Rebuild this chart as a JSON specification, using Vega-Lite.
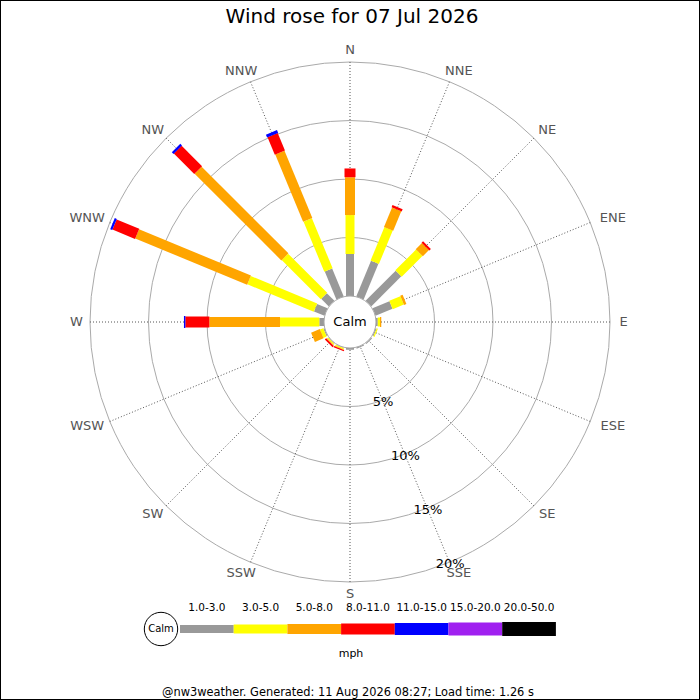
{
  "$schema": "https://vega.github.io/schema/vega-lite/v6.json",
  "width": 700,
  "height": 700,
  "padding": 0,
  "autosize": {"type": "none"},
  "config": {
    "view": {"stroke": "#000000", "strokeWidth": 2},
    "font": "DejaVu Sans",
    "axis": {"disable": true},
    "legend": {"disable": true}
  },
  "datasets": {
    "dirs": [
      {"dir": "N", "deg": 0}, {"dir": "NNE", "deg": 22.5}, {"dir": "NE", "deg": 45}, {"dir": "ENE", "deg": 67.5},
      {"dir": "E", "deg": 90}, {"dir": "ESE", "deg": 112.5}, {"dir": "SE", "deg": 135}, {"dir": "SSE", "deg": 157.5},
      {"dir": "S", "deg": 180}, {"dir": "SSW", "deg": 202.5}, {"dir": "SW", "deg": 225}, {"dir": "WSW", "deg": 247.5},
      {"dir": "W", "deg": 270}, {"dir": "WNW", "deg": 292.5}, {"dir": "NW", "deg": 315}, {"dir": "NNW", "deg": 337.5}
    ],
    "rose": [
      {"dir": "N", "band": "1.0-3.0", "pct": 3.59}, {"dir": "N", "band": "3.0-5.0", "pct": 3.33}, {"dir": "N", "band": "5.0-8.0", "pct": 3.23}, {"dir": "N", "band": "8.0-11.0", "pct": 0.75},
      {"dir": "NNE", "band": "1.0-3.0", "pct": 3.3}, {"dir": "NNE", "band": "3.0-5.0", "pct": 3.1}, {"dir": "NNE", "band": "5.0-8.0", "pct": 1.8}, {"dir": "NNE", "band": "8.0-11.0", "pct": 0.2},
      {"dir": "NE", "band": "1.0-3.0", "pct": 3.64}, {"dir": "NE", "band": "3.0-5.0", "pct": 2.51}, {"dir": "NE", "band": "5.0-8.0", "pct": 0.75}, {"dir": "NE", "band": "8.0-11.0", "pct": 0.18},
      {"dir": "ENE", "band": "1.0-3.0", "pct": 1.57}, {"dir": "ENE", "band": "3.0-5.0", "pct": 1.03}, {"dir": "ENE", "band": "5.0-8.0", "pct": 0.22},
      {"dir": "E", "band": "1.0-3.0", "pct": 0.15}, {"dir": "E", "band": "3.0-5.0", "pct": 0.19}, {"dir": "E", "band": "5.0-8.0", "pct": 0.11},
      {"dir": "ESE", "band": "1.0-3.0", "pct": 0.1}, {"dir": "ESE", "band": "3.0-5.0", "pct": 0.1},
      {"dir": "SE", "band": "1.0-3.0", "pct": 0.1},
      {"dir": "SSE", "band": "1.0-3.0", "pct": 0.1},
      {"dir": "S", "band": "1.0-3.0", "pct": 0.15},
      {"dir": "SSW", "band": "1.0-3.0", "pct": 0.05}, {"dir": "SSW", "band": "3.0-5.0", "pct": 0.1}, {"dir": "SSW", "band": "5.0-8.0", "pct": 0.05}, {"dir": "SSW", "band": "8.0-11.0", "pct": 0.1},
      {"dir": "SW", "band": "1.0-3.0", "pct": 0.05}, {"dir": "SW", "band": "3.0-5.0", "pct": 0.1}, {"dir": "SW", "band": "5.0-8.0", "pct": 0.05}, {"dir": "SW", "band": "8.0-11.0", "pct": 0.15},
      {"dir": "WSW", "band": "1.0-3.0", "pct": 0.1}, {"dir": "WSW", "band": "3.0-5.0", "pct": 0.3}, {"dir": "WSW", "band": "5.0-8.0", "pct": 0.8},
      {"dir": "W", "band": "1.0-3.0", "pct": 0.4}, {"dir": "W", "band": "3.0-5.0", "pct": 3.36}, {"dir": "W", "band": "5.0-8.0", "pct": 6.04}, {"dir": "W", "band": "8.0-11.0", "pct": 2.05}, {"dir": "W", "band": "11.0-15.0", "pct": 0.12},
      {"dir": "WNW", "band": "1.0-3.0", "pct": 0.97}, {"dir": "WNW", "band": "3.0-5.0", "pct": 6.15}, {"dir": "WNW", "band": "5.0-8.0", "pct": 10.35}, {"dir": "WNW", "band": "8.0-11.0", "pct": 2.09}, {"dir": "WNW", "band": "11.0-15.0", "pct": 0.19},
      {"dir": "NW", "band": "1.0-3.0", "pct": 0.92}, {"dir": "NW", "band": "3.0-5.0", "pct": 4.73}, {"dir": "NW", "band": "5.0-8.0", "pct": 10.48}, {"dir": "NW", "band": "8.0-11.0", "pct": 2.47}, {"dir": "NW", "band": "11.0-15.0", "pct": 0.2},
      {"dir": "NNW", "band": "1.0-3.0", "pct": 2.59}, {"dir": "NNW", "band": "3.0-5.0", "pct": 4.63}, {"dir": "NNW", "band": "5.0-8.0", "pct": 6.22}, {"dir": "NNW", "band": "8.0-11.0", "pct": 1.62}, {"dir": "NNW", "band": "11.0-15.0", "pct": 0.26}
    ],
    "bands": [
      {"band": "1.0-3.0"}, {"band": "3.0-5.0"}, {"band": "5.0-8.0"}, {"band": "8.0-11.0"},
      {"band": "11.0-15.0"}, {"band": "15.0-20.0"}, {"band": "20.0-50.0"}
    ],
    "rings": [
      {"pct": 5, "label": "5%"}, {"pct": 10, "label": "10%"}, {"pct": 15, "label": "15%"}, {"pct": 20, "label": "20%"}
    ]
  },
  "layer": [
    {
      "data": {"name": "rings"},
      "transform": [
        {"calculate": "pow(2 * (26 + 11.7 * datum.pct), 2)", "as": "sz"}
      ],
      "mark": {"type": "point", "shape": "circle", "filled": false, "stroke": "#aaaaaa", "strokeWidth": 1, "opacity": 1},
      "encoding": {
        "x": {"datum": 0, "type": "quantitative", "scale": {"domain": [-350, 350], "nice": false, "zero": false}},
        "y": {"datum": 0, "type": "quantitative", "scale": {"domain": [-378, 322], "nice": false, "zero": false}},
        "size": {"field": "sz", "type": "quantitative", "scale": null}
      }
    },
    {
      "data": {"name": "dirs"},
      "transform": [
        {"calculate": "260 * sin(datum.deg * PI / 180)", "as": "lx"},
        {"calculate": "260 * cos(datum.deg * PI / 180)", "as": "ly"}
      ],
      "mark": {"type": "rule", "stroke": "#555555", "strokeWidth": 1, "strokeDash": [1, 2]},
      "encoding": {
        "x": {"field": "lx", "type": "quantitative"},
        "y": {"field": "ly", "type": "quantitative"},
        "x2": {"datum": 0},
        "y2": {"datum": 0}
      }
    },
    {
      "data": {"name": "rose"},
      "transform": [
        {"lookup": "dir", "from": {"data": {"name": "dirs"}, "key": "dir", "fields": ["deg"]}},
        {"stack": "pct", "groupby": ["dir"], "as": ["p0", "p1"]},
        {"calculate": "(26 + 11.7 * datum.p0) * sin(datum.deg * PI / 180)", "as": "x0"},
        {"calculate": "(26 + 11.7 * datum.p0) * cos(datum.deg * PI / 180)", "as": "y0"},
        {"calculate": "(26 + 11.7 * datum.p1) * sin(datum.deg * PI / 180)", "as": "x1"},
        {"calculate": "(26 + 11.7 * datum.p1) * cos(datum.deg * PI / 180)", "as": "y1"}
      ],
      "mark": {"type": "rule", "strokeCap": "butt"},
      "encoding": {
        "x": {"field": "x0", "type": "quantitative"},
        "y": {"field": "y0", "type": "quantitative"},
        "x2": {"field": "x1"},
        "y2": {"field": "y1"},
        "color": {
          "field": "band", "type": "nominal",
          "scale": {
            "domain": ["1.0-3.0", "3.0-5.0", "5.0-8.0", "8.0-11.0", "11.0-15.0", "15.0-20.0", "20.0-50.0"],
            "range": ["#999999", "#ffff00", "#ffa500", "#ff0000", "#0000ff", "#a020f0", "#000000"]
          }
        },
        "size": {
          "field": "band", "type": "ordinal",
          "scale": {
            "domain": ["1.0-3.0", "3.0-5.0", "5.0-8.0", "8.0-11.0", "11.0-15.0", "15.0-20.0", "20.0-50.0"],
            "range": [8, 14, 20, 22.5, 24.5, 26.5, 28.5]
          }
        }
      }
    },
    {
      "data": {"values": [{"t": "Calm"}]},
      "mark": {"type": "point", "shape": "circle", "filled": true, "fill": "#ffffff", "stroke": "#aaaaaa", "strokeWidth": 1, "size": 2704, "opacity": 1},
      "encoding": {
        "x": {"datum": 0, "type": "quantitative"},
        "y": {"datum": 0, "type": "quantitative"}
      }
    },
    {
      "data": {"values": [{"t": "Calm"}]},
      "mark": {"type": "text", "fontSize": 13, "color": "#000000", "align": "center", "baseline": "middle"},
      "encoding": {
        "x": {"datum": 0, "type": "quantitative"},
        "y": {"datum": 0, "type": "quantitative"},
        "text": {"field": "t"}
      }
    },
    {
      "data": {"name": "dirs"},
      "transform": [
        {"calculate": "(268 + 5.5 * length(datum.dir)) * sin(datum.deg * PI / 180)", "as": "tx"},
        {"calculate": "272 * cos(datum.deg * PI / 180)", "as": "ty"}
      ],
      "mark": {"type": "text", "fontSize": 13, "color": "#555555", "align": "center", "baseline": "middle"},
      "encoding": {
        "x": {"field": "tx", "type": "quantitative"},
        "y": {"field": "ty", "type": "quantitative"},
        "text": {"field": "dir"}
      }
    },
    {
      "data": {"name": "rings"},
      "transform": [
        {"calculate": "(28 + 11.7 * datum.pct) * sin(157.5 * PI / 180)", "as": "tx"},
        {"calculate": "(28 + 11.7 * datum.pct) * cos(157.5 * PI / 180)", "as": "ty"}
      ],
      "mark": {"type": "text", "fontSize": 13, "color": "#000000", "align": "center", "baseline": "middle"},
      "encoding": {
        "x": {"field": "tx", "type": "quantitative"},
        "y": {"field": "ty", "type": "quantitative"},
        "text": {"field": "label"}
      }
    },
    {
      "data": {"values": [{"t": "Wind rose for 07 Jul 2026"}]},
      "mark": {"type": "text", "fontSize": 20, "color": "#000000", "align": "center", "baseline": "middle"},
      "encoding": {
        "x": {"datum": 2, "type": "quantitative"},
        "y": {"datum": 305, "type": "quantitative"},
        "text": {"field": "t"}
      }
    },
    {
      "data": {"values": [{"t": "@nw3weather. Generated: 11 Aug 2026 08:27; Load time: 1.26 s"}]},
      "mark": {"type": "text", "fontSize": 11.4, "color": "#000000", "align": "center", "baseline": "middle"},
      "encoding": {
        "x": {"datum": -2, "type": "quantitative"},
        "y": {"datum": -371, "type": "quantitative"},
        "text": {"field": "t"}
      }
    },
    {
      "data": {"values": [{"t": "mph"}]},
      "mark": {"type": "text", "fontSize": 11, "color": "#000000", "align": "center", "baseline": "middle"},
      "encoding": {
        "x": {"datum": 1, "type": "quantitative"},
        "y": {"datum": -332, "type": "quantitative"},
        "text": {"field": "t"}
      }
    },
    {
      "data": {"values": [{"t": "Calm"}]},
      "mark": {"type": "point", "shape": "circle", "filled": true, "fill": "#ffffff", "stroke": "#000000", "strokeWidth": 1, "size": 1116, "opacity": 1},
      "encoding": {
        "x": {"datum": -189, "type": "quantitative"},
        "y": {"datum": -307, "type": "quantitative"}
      }
    },
    {
      "data": {"values": [{"t": "Calm"}]},
      "mark": {"type": "text", "fontSize": 10, "color": "#000000", "align": "center", "baseline": "middle"},
      "encoding": {
        "x": {"datum": -189, "type": "quantitative"},
        "y": {"datum": -307, "type": "quantitative"},
        "text": {"field": "t"}
      }
    },
    {
      "data": {"name": "bands"},
      "transform": [
        {"window": [{"op": "row_number", "as": "i"}]},
        {"calculate": "-170 + 53.7 * (datum.i - 1)", "as": "gx0"},
        {"calculate": "-170 + 53.7 * datum.i", "as": "gx1"},
        {"calculate": "-170 + 53.7 * (datum.i - 0.5)", "as": "gxm"}
      ],
      "layer": [
        {
          "mark": {"type": "rule", "strokeCap": "butt"},
          "encoding": {
            "x": {"field": "gx0", "type": "quantitative"},
            "x2": {"field": "gx1"},
            "y": {"datum": -307, "type": "quantitative"},
            "color": {"field": "band", "type": "nominal"},
            "size": {"field": "band", "type": "ordinal"}
          }
        },
        {
          "mark": {"type": "text", "fontSize": 10.5, "color": "#000000", "align": "center", "baseline": "middle"},
          "encoding": {
            "x": {"field": "gxm", "type": "quantitative"},
            "y": {"datum": -286, "type": "quantitative"},
            "text": {"field": "band"}
          }
        }
      ]
    }
  ]
}
